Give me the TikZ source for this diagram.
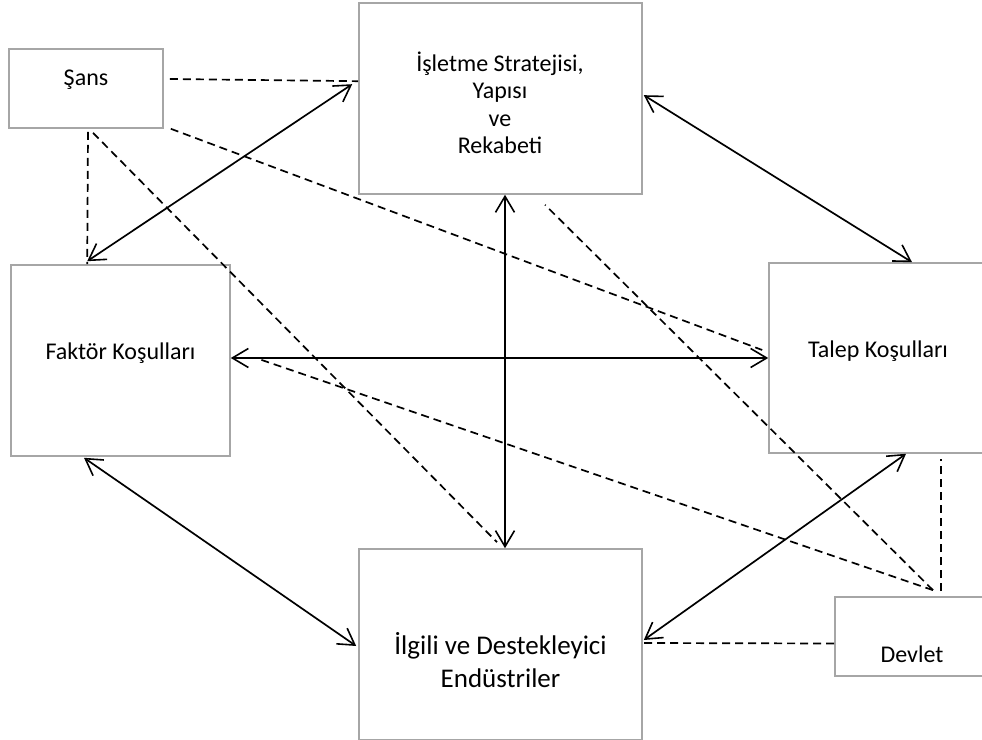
\documentclass[tikz,border=0pt]{standalone}
\usepackage{fontspec}
\setmainfont{Carlito}
\usetikzlibrary{positioning}
\usetikzlibrary{calc}
\usetikzlibrary{arrows.meta}

\begin{document}
\begin{tikzpicture}[x=1pt,y=1pt,>={Straight Barb[length=16pt,width=19pt,line width=1.6pt]},
	box/.style={draw=black!35, line width=1.6pt, rectangle, inner sep=0pt},
	lbl/.style={align=center, font=\fontsize{24}{27.5}\selectfont, inner sep=0pt},
	dashline/.style={black, line width=1.7pt, dash pattern=on 8pt off 5pt},
	twoway/.style={<->, black, line width=1.7pt}]
				\useasboundingbox (0,0) rectangle (982,739);
				
				% draw boxes
				\node[box, minimum width=154pt, minimum height=79pt] (sans) at (86,650.5) {};
				\node[box, minimum width=283pt, minimum height=191pt] (isletme) at (500.5,640.5) {};
				\node[box, minimum width=219pt, minimum height=191pt] (faktor) at (120.5,378.5) {};
				\node[box, minimum width=219pt, minimum height=190pt] (talep) at (878.5,381) {};
				\node[box, minimum width=283pt, minimum height=191pt] (ilgili) at (500.5,94.5) {};
				\node[box, minimum width=154pt, minimum height=79pt] (devlet) at (912,102.5) {};
				
				% draw texts
				\node[lbl] (sans-txt) at (86,659) {Şans};
				\node[lbl] (isletme-txt) at (500,636) {İşletme Stratejisi,\\Yapısı\\ve\\Rekabeti};
				\node[lbl] (faktor-txt) at (120.5,386) {Faktör Koşulları};
				\node[lbl] (talep-txt) at (878,388) {Talep Koşulları};
				\node[lbl, font=\fontsize{27}{33}\selectfont] (ilgili-txt) at (500.5,79) {İlgili ve Destekleyici\\Endüstriler};
				\node[lbl] (devlet-txt) at (912,85) {Devlet};
				
				% draw two-way arrows
				\draw[twoway] ($(isletme.north west)+(-6,-82)$) -- ($(faktor.north west)+(77,3)$);
				\draw[twoway] ($(isletme.north east)+(1,-93)$) -- ($(talep.north)+(33.5,0)$);
				\draw[twoway] ([xshift=4.5pt]isletme.south) -- ([xshift=4.5pt]ilgili.north);
				\draw[twoway] (faktor.east |- talep.west) -- (talep.west);
				\draw[twoway] ($(faktor.south)+(-36.5,-1)$) -- ($(ilgili.west)+(-2,-1.5)$);
				\draw[twoway] ($(talep.south)+(27.5,0)$) -- ($(ilgili.east)+(1,4.5)$);
				
				% draw dashed lines from Şans
				\draw[dashline] ([xshift=6pt,yshift=9.5pt]sans.east) -- ($(isletme.north west)+(0,-79)$);
				\draw[dashline] ([xshift=7pt]sans.south east) -- ([xshift=-6pt,yshift=8pt]talep.west);
				\draw[dashline] ([xshift=2pt,yshift=-3pt]sans.south) -- ($(faktor.north west)+(77,0)$);
				\draw[dashline] ([xshift=7pt,yshift=-4pt]sans.south) -- ([xshift=-3.5pt,yshift=6pt]ilgili.north);
				
				% draw dashed lines from Devlet
				\coordinate (devlet-top) at ([xshift=21pt,yshift=6pt]devlet.north);
				\draw[dashline] ([yshift=-7pt]devlet.west) -- ([xshift=1pt,yshift=1.5pt]ilgili.east);
				\draw[dashline] ([xshift=29pt,yshift=5pt]devlet.north) -- ($(talep.south)+(62.5,-5)$);
				\draw[dashline] (devlet-top) -- ([xshift=28pt,yshift=1.5pt]faktor.east);
				\draw[dashline] (devlet-top) -- ($(isletme.south)+(44.5,-10)$);
			\end{tikzpicture}
\end{document}
